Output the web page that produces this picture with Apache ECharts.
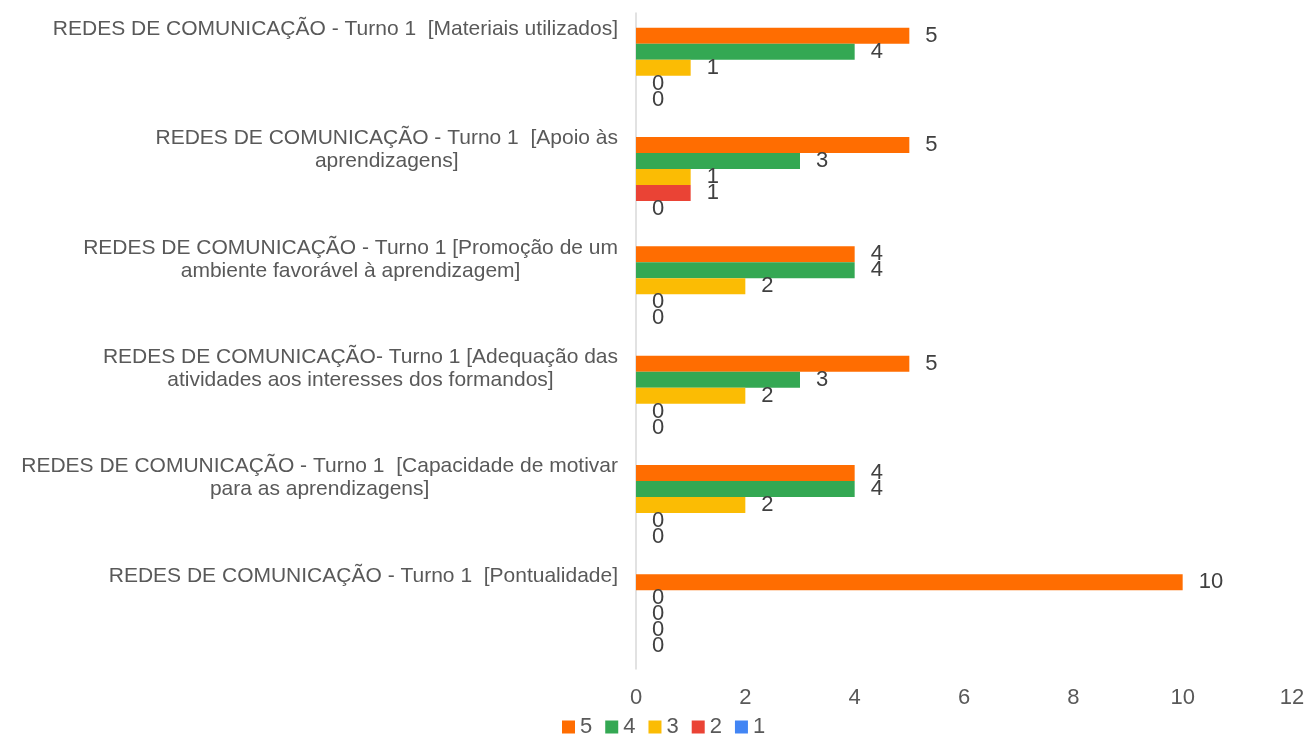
<!DOCTYPE html>
<html>
<head>
<meta charset="utf-8">
<script src="https://cdn.jsdelivr.net/npm/echarts@6/dist/echarts.min.js"></script>
<style>
  html, body { margin: 0; padding: 0; background: #fff; }
  #main { width: 1309px; height: 735px; }
</style>
</head>
<body>
<div id="main"></div>
<script>
// categories, top to bottom
const categories = [
  'REDES DE COMUNICAÇÃO - Turno 1  [Materiais utilizados]',
  'REDES DE COMUNICAÇÃO - Turno 1  [Apoio às\naprendizagens]',
  'REDES DE COMUNICAÇÃO - Turno 1 [Promoção de um\nambiente favorável à aprendizagem]',
  'REDES DE COMUNICAÇÃO- Turno 1 [Adequação das\natividades aos interesses dos formandos]',
  'REDES DE COMUNICAÇÃO - Turno 1  [Capacidade de motivar\npara as aprendizagens]',
  'REDES DE COMUNICAÇÃO - Turno 1  [Pontualidade]'
]
const seriesNames = ['5', '4', '3', '2', '1']
const values5 = [5, 5, 4, 5, 4, 10]
const values4 = [4, 3, 4, 3, 4, 0]
const values3 = [1, 1, 2, 2, 2, 0]
const values2 = [0, 1, 0, 0, 0, 0]
const values1 = [0, 0, 0, 0, 0, 0]
const colors = ['#FF6D01', '#34A853', '#FBBC04', '#EA4335', '#4285F4']

const allValues = [values5, values4, values3, values2, values1]

const labelLine = 23   // category label line height
const labelLift = 50   // distance from band centre up to the label top

let chart = echarts.init(document.getElementById('main'));
chart.setOption({
  animation: false,
  textStyle: { fontFamily: 'Liberation Sans, Arial, sans-serif' },
  color: colors,
  grid: {
    left: 636,
    right: 17,
    top: 13,
    bottom: 66
  },
  legend: {
    bottom: -3,
    left: 562,
    padding: 0,
    itemWidth: 13,
    itemHeight: 13,
    itemGap: 13,
    icon: 'rect',
    textStyle: { fontSize: 22, color: '#595959' },
    data: seriesNames
  },
  xAxis: {
    type: 'value',
    min: 0,
    max: 12,
    interval: 2,
    axisLine: { show: false },
    axisTick: { show: false },
    splitLine: { show: false },
    axisLabel: { fontSize: 22, color: '#595959', margin: 18 }
  },
  yAxis: {
    type: 'category',
    inverse: true,
    data: categories,
    axisLine: { show: true, lineStyle: { color: '#D9D9D9', width: 1.5 } },
    axisTick: { show: false },
    axisLabel: {
      color: '#595959',
      margin: 18,
      align: 'right',
      verticalAlign: 'bottom',
      // labels sit at the top of their band, lines centred under each other
      formatter: function (val) {
        const lines = val.split('\n')
        return lines.map(l => '{c|' + l + '}').join('\n') + '\n{p' + lines.length + '| }'
      },
      rich: {
        c: { align: 'center', fontSize: 21, color: '#595959', lineHeight: labelLine },
        p1: { fontSize: 1, lineHeight: labelLift - labelLine },
        p2: { fontSize: 1, lineHeight: labelLift - 2 * labelLine }
      }
    }
  },
  series: seriesNames.map((name, i) => ({
    name: name,
    type: 'bar',
    data: allValues[i],
    barWidth: 16,
    barGap: '0%',
    label: {
      show: true,
      position: 'right',
      distance: 16,
      fontSize: 22,
      color: '#404040'
    }
  }))
});
</script>
</body>
</html>
